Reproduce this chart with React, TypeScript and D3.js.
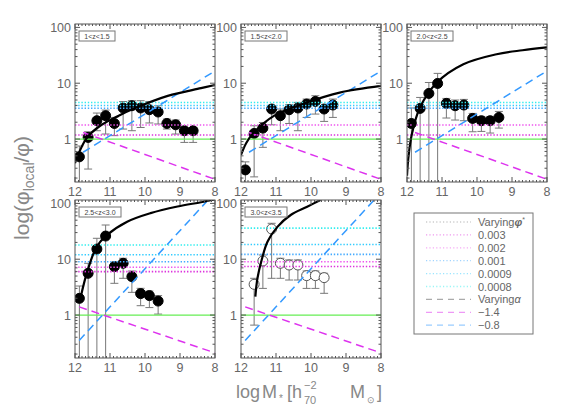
import React, { useEffect, useRef } from 'react';
import * as d3 from 'd3';

// redshift bins, one per panel
const zLabels = ['1<z<1.5', '1.5<z<2.0', '2.0<z<2.5', '2.5<z<3.0', '3.0<z<3.5'];

// log M* bin centres
const massBins = [11.875, 11.625, 11.375, 11.125, 10.875, 10.625, 10.375, 10.125, 9.875, 9.625, 9.375, 9.125, 8.875, 8.625];
const massBins5 = [11.625, 11.375, 11.125, 10.875, 10.625, 10.375, 10.125, 9.875, 9.625];

// phi_local / phi with error bar ends
const ratio1 = [0.48, 1.07, 2.13, 2.62, 1.9, 3.6, 3.95, 3.6, 3.35, 3.05, 1.9, 1.8, 1.41, 1.41];
const hi1 = [0.75, 1.35, 2.92, 3.3, 2.44, 4.7, 4.86, 4.86, 4.7, 3.95, 2.28, 2.19, 1.61, 1.61];
const lo1 = [0.1, 0.29, 1.41, 1.23, 1.15, 1.51, 1.41, 1.61, 1.94, 1.86, 1.51, 1.23, 0.87, 0.87];

const ratio2 = [0.28, 1.26, 1.57, 3.45, 2.62, 3.35, 3.6, 4.24, 4.72, 3.45, 4.07];
const hi2 = [0.39, 1.73, 1.98, 3.79, 3.45, 4.12, 4.53, 5.2, 5.97, 3.95, 5.2];
const lo2 = [0.1, 0.21, 0.71, 1.8, 1.41, 1.9, 1.41, 2.44, 2.8, 2.07, 2.44];

const ratio3 = [1.9, 3.54, 6.56, 9.9, 4.35, 3.95, 4.07, 2.34, 2.13, 2.13, 2.44];
const hi3 = [3.6, 5.56, 10.3, 15, 5.34, 5.0, 5.13, 2.88, 2.54, 2.54, 3.12];
const lo3 = [0.1, 0.1, 0.1, 0.1, 2.38, 2.19, 2.13, 1.35, 1.37, 1.28, 1.57];

const ratio4 = [1.99, 5.59, 15.2, 26, 7.37, 8.45, 4.88, 2.42, 2.23, 1.78];
const hi4 = [3.31, 8.45, 23.7, 41, 8.8, 10.4, 6.15, 3.01, 2.69, 2.23];
const lo4 = [0.1, 0.1, 0.1, 0.1, 3.7, 4.55, 2.55, 1.47, 1.36, 1.04];

const ratio5 = [3.55, 9.3, 34.8, 8.45, 7.87, 7.87, 5.08, 5.08, 4.68];
const hi5 = [4.55, 11.9, 44, 10.4, 9.7, 9.7, 6.15, 6.15, 5.6];
const lo5 = [0.66, 3.0, 4.55, 4.55, 4.24, 4.24, 3.0, 3.0, 2.45];

// best-fit curves
const fitMass1 = [12.0, 11.86, 11.65, 11.28, 10.71, 10.33, 9.35, 8.4, 8.0];
const fitRatio1 = [0.37, 0.62, 1.07, 1.73, 2.7, 3.48, 5.93, 8.15, 9.3];
const fitMass2 = [12.0, 11.85, 11.67, 11.06, 10.12, 9.18, 8.0];
const fitRatio2 = [0.52, 0.85, 1.23, 2.6, 4.5, 6.8, 8.95];
const fitMass3 = [12.0, 11.96, 11.86, 11.63, 11.15, 10.39, 9.44, 8.7, 8.0];
const fitRatio3 = [0.22, 0.47, 1.23, 3.67, 10.2, 21.8, 33, 39, 44];
const fitMass4 = [11.83, 11.65, 11.38, 11.09, 10.51, 9.84, 9.07, 8.4, 8.0];
const fitRatio4 = [2.2, 6.0, 16.8, 27, 47, 67, 88, 105, 118];
const fitMass5 = [11.59, 11.53, 11.41, 11.24, 10.96, 10.58, 10.11, 9.73];
const fitRatio5 = [2.14, 4.55, 9.7, 20.7, 38, 62, 87, 115];

// constant levels for varying phi* (0.003, 0.002, 0.001, 0.0009, 0.0008)
const phiStarLabels = ['0.003', '0.002', '0.001', '0.0009', '0.0008'];
const phiColors = ['#dd33dd', '#ee55ee', '#44aaff', '#33ccff', '#33eeee'];
const phiLevelsTop = [1.18, 1.78, 3.57, 4.0, 4.5];
const phiLevels4 = [6.0, 7.2, 9.0, 12.0, 18.0];
const phiLevels5 = [7.4, 9.0, 12.2, 18.4, 36.0];

// varying alpha lines (-1.4, -0.8)
const alphaMassTop = [11.77, 8.0];
const alphaSteepTop = [1.31, 0.19];
const alphaFlatTop = [0.58, 16.6];
const alphaMassBot = [11.88, 8.0];
const alphaSteepBot = [1.4, 0.21];
const alphaFlatBot = [0.35, 157];

const xTicks = [12, 11, 10, 9, 8];
const yTicks = [1, 10, 100];

const panels = [
  { mass: massBins, ratio: ratio1, hi: hi1, lo: lo1, fitM: fitMass1, fitR: fitRatio1, levels: phiLevelsTop, aM: alphaMassTop, aS: alphaSteepTop, aF: alphaFlatTop, open: false },
  { mass: massBins, ratio: ratio2, hi: hi2, lo: lo2, fitM: fitMass2, fitR: fitRatio2, levels: phiLevelsTop, aM: alphaMassTop, aS: alphaSteepTop, aF: alphaFlatTop, open: false },
  { mass: massBins, ratio: ratio3, hi: hi3, lo: lo3, fitM: fitMass3, fitR: fitRatio3, levels: phiLevelsTop, aM: alphaMassTop, aS: alphaSteepTop, aF: alphaFlatTop, open: false },
  { mass: massBins, ratio: ratio4, hi: hi4, lo: lo4, fitM: fitMass4, fitR: fitRatio4, levels: phiLevels4, aM: alphaMassBot, aS: alphaSteepBot, aF: alphaFlatBot, open: false },
  { mass: massBins5, ratio: ratio5, hi: hi5, lo: lo5, fitM: fitMass5, fitR: fitRatio5, levels: phiLevels5, aM: alphaMassBot, aS: alphaSteepBot, aF: alphaFlatBot, open: true },
];

const boxes = [
  { left: 75, top: 24 }, { left: 241, top: 24 }, { left: 407, top: 24 },
  { left: 75, top: 200 }, { left: 241, top: 200 },
];

const FONT = 'Liberation Sans, Arial, sans-serif';
const GREY = '#666';

const App = () => {
  const svgRef = useRef<SVGSVGElement>(null);

  useEffect(() => {
    const svg = d3.select(svgRef.current);
    svg.selectAll('*').remove();
    const PW = 140, PH = 158;

    panels.forEach((p, i) => {
      const { left, top } = boxes[i];
      const x = d3.scaleLinear().domain([12, 8]).range([left, left + PW]);
      const y = d3.scaleLog().domain([0.17, 115]).range([top + PH, top]);

      const clipId = `clip${i}`;
      svg.append('clipPath').attr('id', clipId)
        .append('rect').attr('x', left).attr('y', top).attr('width', PW).attr('height', PH);
      const g = svg.append('g').attr('clip-path', `url(#${clipId})`);

      const pts = p.mass.map((m, k) => ({ m, r: p.ratio[k], hi: p.hi[k], lo: p.lo[k] }));

      // error bars
      pts.forEach(d => {
        g.append('line').attr('x1', x(d.m)).attr('x2', x(d.m)).attr('y1', y(d.hi)).attr('y2', y(d.lo))
          .attr('stroke', '#777').attr('stroke-width', 1);
        [d.hi, d.lo].forEach(v => {
          g.append('line').attr('x1', x(d.m) - 4).attr('x2', x(d.m) + 4).attr('y1', y(v)).attr('y2', y(v))
            .attr('stroke', '#777').attr('stroke-width', 1);
        });
      });

      g.selectAll('.pt').data(pts).enter().append('circle')
        .attr('cx', d => x(d.m)).attr('cy', d => y(d.r)).attr('r', 5)
        .attr('fill', p.open ? '#fff' : '#000')
        .attr('stroke', p.open ? '#555' : '#000').attr('stroke-width', 1);

      // reference at unity
      g.append('line').attr('x1', left).attr('x2', left + PW).attr('y1', y(1)).attr('y2', y(1))
        .attr('stroke', '#66ee55').attr('stroke-width', 1.2);

      p.levels.forEach((v, k) => {
        g.append('line').attr('x1', left).attr('x2', left + PW).attr('y1', y(v)).attr('y2', y(v))
          .attr('stroke', phiColors[k]).attr('stroke-width', 1.6).attr('stroke-dasharray', '1.4,1.8');
      });

      const seg = (ms: number[], rs: number[]) => d3.line<number>()
        .x(d => x(ms[d])).y(d => y(rs[d]))(ms.map((_, k) => k));

      g.append('path').attr('d', seg(p.aM, p.aS)).attr('fill', 'none')
        .attr('stroke', '#dd33ee').attr('stroke-width', 1.5).attr('stroke-dasharray', '8,5');
      g.append('path').attr('d', seg(p.aM, p.aF)).attr('fill', 'none')
        .attr('stroke', '#3399ff').attr('stroke-width', 1.5).attr('stroke-dasharray', '8,5');

      const fit = d3.line<number>()
        .x(k => x(p.fitM[k])).y(k => y(p.fitR[k]))
        .curve(d3.curveCatmullRom);
      g.append('path').attr('d', fit(p.fitM.map((_, k) => k))).attr('fill', 'none')
        .attr('stroke', '#000').attr('stroke-width', 2.2);

      // frame with IDL-style ticks on all four sides
      const fr = svg.append('g');
      fr.append('rect').attr('x', left).attr('y', top).attr('width', PW).attr('height', PH)
        .attr('fill', 'none').attr('stroke', '#555').attr('stroke-width', 1);
      const minorX = d3.range(80, 121).map(v => v / 10);
      minorX.forEach(v => {
        const major = Math.abs(v - Math.round(v)) < 1e-6;
        const len = major ? 5 : 2;
        fr.append('line').attr('x1', x(v)).attr('x2', x(v)).attr('y1', top + PH).attr('y2', top + PH - len).attr('stroke', '#555');
        fr.append('line').attr('x1', x(v)).attr('x2', x(v)).attr('y1', top).attr('y2', top + len).attr('stroke', '#555');
      });
      const yMinor: number[] = [];
      [0.1, 1, 10, 100].forEach(dec => d3.range(1, 10).forEach(d => {
        const v = d * dec;
        if (v >= 0.17 && v <= 115) yMinor.push(v);
      }));
      yMinor.forEach(v => {
        const major = yTicks.includes(v);
        const len = major ? 5 : 2.5;
        fr.append('line').attr('x1', left).attr('x2', left + len).attr('y1', y(v)).attr('y2', y(v)).attr('stroke', '#555');
        fr.append('line').attr('x1', left + PW).attr('x2', left + PW - len).attr('y1', y(v)).attr('y2', y(v)).attr('stroke', '#555');
      });

      yTicks.forEach(v => {
        fr.append('text').attr('x', left - 4).attr('y', y(v) + 4.5).attr('text-anchor', 'end')
          .attr('font-family', FONT).attr('font-size', 12.5).attr('fill', GREY).text(String(v));
      });
      xTicks.forEach(v => {
        fr.append('text').attr('x', x(v)).attr('y', top + PH + 14).attr('text-anchor', 'middle')
          .attr('font-family', FONT).attr('font-size', 12.5).attr('fill', GREY).text(String(v));
      });

      // redshift label box
      const bw = i === 0 ? 36 : 42;
      fr.append('rect').attr('x', left + 4).attr('y', top + 7).attr('width', bw).attr('height', 10)
        .attr('fill', '#fff').attr('stroke', '#777').attr('stroke-width', 1);
      fr.append('text').attr('x', left + 4 + bw / 2).attr('y', top + 14.5).attr('text-anchor', 'middle')
        .attr('font-family', FONT).attr('font-size', 7).attr('fill', '#444').text(zLabels[i]);
    });

    // axis titles
    const yl = svg.append('text').attr('transform', 'translate(29,188) rotate(-90)')
      .attr('text-anchor', 'middle').attr('font-family', FONT).attr('font-size', 21).attr('fill', '#888');
    yl.append('tspan').text('log(\u03c6');
    yl.append('tspan').attr('dy', 5).attr('font-size', 14).text('local');
    yl.append('tspan').attr('dy', -5).text('/\u03c6)');

    const xt = (tx: number, ty: number, s: string, fs: number) =>
      svg.append('text').attr('x', tx).attr('y', ty).attr('font-family', FONT)
        .attr('font-size', fs).attr('fill', '#888').text(s);
    xt(236, 398, 'log', 18);
    xt(262, 398, 'M', 18);
    xt(279, 402, '*', 10);
    xt(287, 398, '[', 18);
    xt(292, 398, 'h', 18);
    xt(304, 389, '\u22122', 11);
    xt(304, 404, '70', 11);
    xt(350, 398, 'M', 18);
    xt(367, 403, '\u2299', 9);
    xt(377, 398, ']', 18);

    // legend
    const lg = svg.append('g');
    lg.append('rect').attr('x', 414).attr('y', 213).attr('width', 119).attr('height', 121)
      .attr('fill', '#fff').attr('stroke', '#777').attr('stroke-width', 1);
    const entries = [
      { label: 'Varying', sym: '\u03c6', color: '#999', dash: '1.2,2.2' },
      ...phiStarLabels.map((l, k) => ({ label: l, sym: '', color: phiColors[k], dash: '1.2,2.2' })),
      { label: 'Varying', sym: '\u03b1', color: '#555', dash: '6,5' },
      { label: '\u22121.4', sym: '', color: '#dd33ee', dash: '6,5' },
      { label: '\u22120.8', sym: '', color: '#3399ff', dash: '6,5' },
    ];
    entries.forEach((e, k) => {
      const ly = 222 + k * 12.9;
      lg.append('line').attr('x1', 426).attr('x2', 471).attr('y1', ly).attr('y2', ly)
        .attr('stroke', e.color).attr('stroke-opacity', 0.5).attr('stroke-width', 1.3).attr('stroke-dasharray', e.dash);
      const t = lg.append('text').attr('x', 478).attr('y', ly + 4).attr('font-family', FONT)
        .attr('font-size', 11).attr('fill', GREY);
      t.append('tspan').text(e.label);
      if (e.sym === '\u03c6') {
        t.append('tspan').attr('font-weight', 'bold').attr('font-style', 'italic').text('\u03c6');
        t.append('tspan').attr('dy', -4).attr('font-size', 7).text('*');
      } else if (e.sym) {
        t.append('tspan').attr('font-style', 'italic').text(e.sym);
      }
    });
  }, []);

  return (
    <svg ref={svgRef} width={582} height={416}
      style={{ position: 'absolute', left: 0, top: 0, background: '#fff' }} />
  );
};

export default App;
